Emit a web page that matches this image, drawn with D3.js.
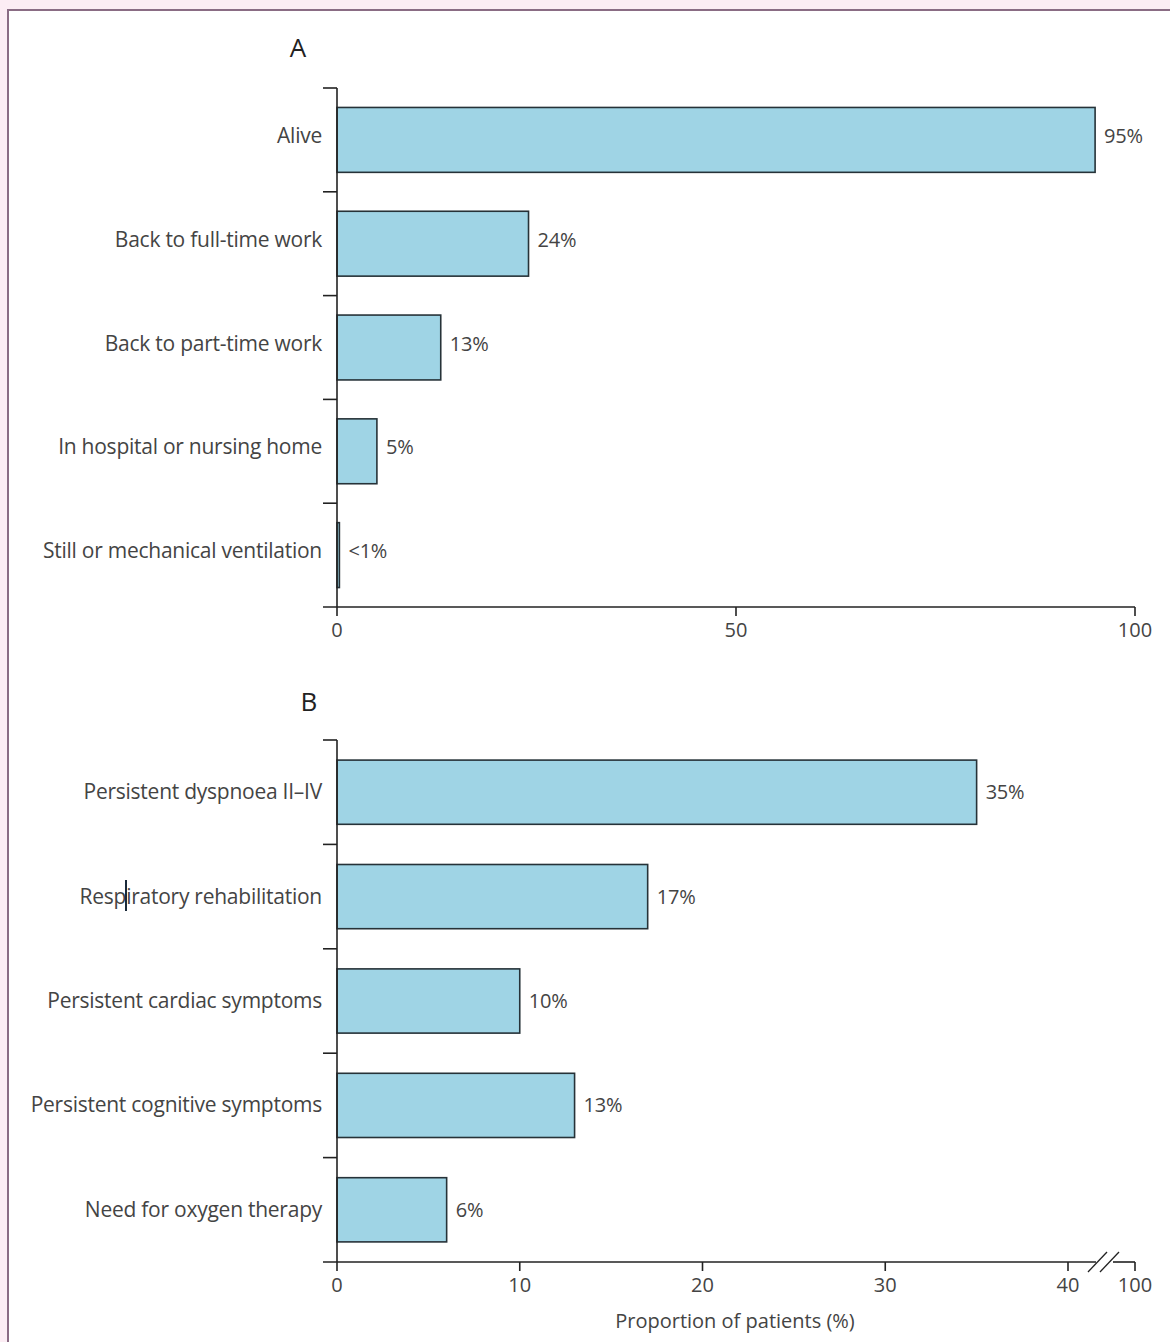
<!DOCTYPE html>
<html><head><meta charset="utf-8">
<script src="https://cdn.jsdelivr.net/npm/d3@7"></script>
<style>html,body{margin:0;padding:0;background:#fcedf4;}svg{display:block;}</style>
</head><body>
<svg id="chart" width="1170" height="1342"></svg>
<script>
const categoriesA = ["Alive","Back to full-time work","Back to part-time work","In hospital or nursing home","Still or mechanical ventilation"];
const valuesA = [95,24,13,5,0.3];
const valueLabelsA = ["95%","24%","13%","5%","<1%"];
const ticksA = [0,50,100];

const categoriesB = ["Persistent dyspnoea II–IV","Respiratory rehabilitation","Persistent cardiac symptoms","Persistent cognitive symptoms","Need for oxygen therapy"];
const valuesB = [35,17,10,13,6];
const valueLabelsB = ["35%","17%","10%","13%","6%"];
const ticksB = [0,10,20,30,40,100];

const svg = d3.select("#chart");
const FONT = "'Open Sans', Lato, sans-serif";
const TXT = "#444";
const STROKE = "#263238";
const FILL = "#9fd4e5";

svg.append("rect").attr("x",8).attr("y",10).attr("width",1200).attr("height",1400)
  .attr("fill","#fff").attr("stroke","#8a6c84").attr("stroke-width",2);

function panel(cfg){
  const g = svg.append("g");
  const x = cfg.x, y = cfg.y;
  const [y0,y1] = y.range();
  const x0 = x(0);
  g.append("text").attr("x",cfg.titleX).attr("y",cfg.titleY).attr("text-anchor","middle")
    .attr("font-family",FONT).attr("font-size",26).attr("font-weight",500).attr("fill","#222").text(cfg.title);
  g.selectAll("rect.bar").data(cfg.cats).join("rect").attr("class","bar")
    .attr("x",x0).attr("y",d=>y(d))
    .attr("width",(d,i)=>x(cfg.vals[i])-x0).attr("height",y.bandwidth())
    .attr("fill",FILL).attr("stroke",STROKE).attr("stroke-width",1.6);
  g.selectAll("text.val").data(cfg.cats).join("text").attr("class","val")
    .attr("x",(d,i)=>x(cfg.vals[i])+9).attr("y",d=>y(d)+y.bandwidth()/2+cfg.dy)
    .attr("font-family",FONT).attr("font-size",20).attr("fill",TXT).attr("letter-spacing",-0.2)
    .text((d,i)=>cfg.labels[i]);
  g.selectAll("text.cat").data(cfg.cats).join("text").attr("class","cat")
    .attr("x",322).attr("y",d=>y(d)+y.bandwidth()/2+cfg.dy).attr("text-anchor","end")
    .attr("font-family",FONT).attr("font-size",21).attr("fill",TXT).attr("letter-spacing",-0.25)
    .text(d=>d);
  g.append("line").attr("x1",x0).attr("x2",x0).attr("y1",y0).attr("y2",y1)
    .attr("stroke","#222").attr("stroke-width",1.6);
  const step = y.step();
  const bounds = d3.range(cfg.cats.length).map(i=>y0+i*step);
  g.selectAll("line.yt").data(bounds).join("line").attr("class","yt")
    .attr("x1",x0-14).attr("x2",x0).attr("y1",d=>d).attr("y2",d=>d)
    .attr("stroke","#222").attr("stroke-width",1.6);
  if(cfg.brk){
    g.append("line").attr("x1",x0-14).attr("x2",cfg.brk[0]).attr("y1",y1).attr("y2",y1).attr("stroke","#222").attr("stroke-width",1.6);
    g.append("line").attr("x1",cfg.brk[1]).attr("x2",x(100)).attr("y1",y1).attr("y2",y1).attr("stroke","#222").attr("stroke-width",1.6);
    [cfg.brk[0]-8, cfg.brk[0]+4].forEach(bx=>{
      g.append("line").attr("x1",bx).attr("y1",y1+10).attr("x2",bx+19).attr("y2",y1-10)
        .attr("stroke","#222").attr("stroke-width",1.3);
    });
  } else {
    g.append("line").attr("x1",x0-14).attr("x2",x(100)).attr("y1",y1).attr("y2",y1).attr("stroke","#222").attr("stroke-width",1.6);
  }
  g.selectAll("line.xt").data(cfg.ticks).join("line").attr("class","xt")
    .attr("x1",d=>x(d)).attr("x2",d=>x(d)).attr("y1",y1).attr("y2",y1+9)
    .attr("stroke","#222").attr("stroke-width",1.6);
  g.selectAll("text.xl").data(cfg.ticks).join("text").attr("class","xl")
    .attr("x",d=>x(d)).attr("y",y1+30).attr("text-anchor","middle")
    .attr("font-family",FONT).attr("font-size",20).attr("fill",TXT).attr("letter-spacing",0).text(d=>d);
}

const xA = d3.scaleLinear().domain([0,100]).range([337,1135]);
const yA = d3.scaleBand().domain(categoriesA).range([88,607]).paddingInner(0.375).paddingOuter(0.1875);
panel({x:xA,y:yA,cats:categoriesA,vals:valuesA,labels:valueLabelsA,ticks:ticksA,title:"A",titleX:298,titleY:57,dy:3});

const xB = d3.scaleLinear().domain([0,40,100]).range([337,1068,1135]);
const yB = d3.scaleBand().domain(categoriesB).range([740,1262]).paddingInner(0.385).paddingOuter(0.1925);
panel({x:xB,y:yB,cats:categoriesB,vals:valuesB,labels:valueLabelsB,ticks:ticksB,title:"B",titleX:309,titleY:711,brk:[1096,1113],dy:7});

svg.append("text").attr("x",735).attr("y",1328).attr("text-anchor","middle")
  .attr("font-family",FONT).attr("font-size",20).attr("fill",TXT).attr("letter-spacing",0)
  .text("Proportion of patients (%)");

svg.append("line").attr("x1",126).attr("x2",126).attr("y1",880).attr("y2",911).attr("stroke","#1a2a3a").attr("stroke-width",2);
</script>
</body></html>
